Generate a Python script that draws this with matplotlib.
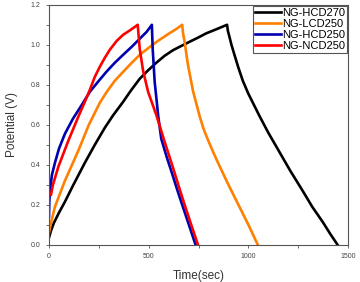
import matplotlib.pyplot as plt
import numpy as np

# ---------------------------
# Galvanostatic charge/discharge data
# ---------------------------
hcd270_t = [0, 10, 25, 50, 80, 120, 180, 230, 280, 320, 372, 410, 455, 500, 538,
            580, 622, 665, 705, 750, 788, 840, 893,
            897, 905, 915, 930, 950, 972, 1000, 1030, 1055, 1100, 1155, 1210, 1272,
            1320, 1372, 1410, 1447]
hcd270_v = [0.035, 0.07, 0.11, 0.16, 0.215, 0.295, 0.41, 0.50, 0.585, 0.645, 0.715, 0.77,
            0.83, 0.875, 0.91, 0.945, 0.973, 0.995, 1.015, 1.037, 1.057, 1.078, 1.10,
            1.07, 1.04, 1.00, 0.95, 0.885, 0.82, 0.755, 0.695, 0.645, 0.56, 0.465, 0.37,
            0.27, 0.19, 0.115, 0.055, 0.0]

lcd250_t = [0, 10, 30, 80, 147, 200, 255, 290, 330, 372, 415, 455, 500, 540, 600, 640, 668,
            672, 680, 697, 722, 755, 775, 797, 825, 850, 900, 950, 1000, 1047]
lcd250_v = [0.06, 0.11, 0.19, 0.32, 0.47, 0.60, 0.71, 0.765, 0.82, 0.865, 0.91, 0.95,
            0.985, 1.015, 1.055, 1.08, 1.10,
            1.06, 1.015, 0.90, 0.77, 0.645, 0.58, 0.525, 0.46, 0.405, 0.30, 0.20, 0.10, 0.0]

hcd250_t = [0, 2, 5, 15, 30, 50, 80, 120, 165, 205, 250, 288, 330, 372, 415, 455, 490, 516,
            520, 525, 530, 540, 547, 563, 590, 613, 640, 663, 700, 735]
hcd250_v = [0.14, 0.22, 0.27, 0.35, 0.41, 0.48, 0.555, 0.63, 0.70, 0.765, 0.82, 0.865,
            0.91, 0.95, 0.99, 1.03, 1.065, 1.10,
            0.98, 0.90, 0.815, 0.72, 0.65, 0.53, 0.44, 0.37, 0.285, 0.215, 0.105, 0.0]

ncd250_t = [10, 20, 47, 97, 147, 180, 205, 230, 255, 280, 305, 340, 372, 410, 445,
            450, 455, 472, 497, 538, 580, 622, 650, 672, 710, 747]
ncd250_v = [0.25, 0.30, 0.39, 0.52, 0.64, 0.715, 0.775, 0.84, 0.89, 0.935, 0.975, 1.02,
            1.05, 1.075, 1.10,
            1.04, 0.98, 0.87, 0.765, 0.65, 0.515, 0.385, 0.295, 0.225, 0.11, 0.0]

labels = ["NG-HCD270", "NG-LCD250", "NG-HCD250", "NG-NCD250"]
colors = ["black", "#ff8000", "#0000b0", "#ff0000"]

plt.rcParams['font.family'] = ['Liberation Sans', 'DejaVu Sans']

fig = plt.figure(figsize=(3.6, 2.82), dpi=100)
ax = fig.add_axes([0.136, 0.132, 0.831, 0.851])

series = [(hcd270_t, hcd270_v), (lcd250_t, lcd250_v),
          (hcd250_t, hcd250_v), (ncd250_t, ncd250_v)]
for (t, v), lab, c in zip(series, labels, colors):
    ax.plot(t, v, color=c, lw=1.9, label=lab, solid_joinstyle='round')

ax.set_xlim(0, 1500)
ax.set_ylim(0, 1.2)
ax.set_xticks([0, 500, 1000, 1500])
ax.set_xticks([250, 750, 1250], minor=True)
ax.set_yticks(np.arange(0, 1.21, 0.2))
ax.set_yticks(np.arange(0.1, 1.2, 0.2), minor=True)
ax.set_yticklabels([f"{y:.1f}" for y in np.arange(0, 1.21, 0.2)])
ax.tick_params(which='both', direction='out', length=2.5, width=0.6,
               colors='#555555', labelsize=5, labelcolor='#444444')
for s in ax.spines.values():
    s.set_color('#555555')
    s.set_linewidth(0.8)

ax.set_xlabel("Time(sec)", fontsize=8.5, color='#333333', labelpad=7)
ax.set_ylabel("Potential (V)", fontsize=8.5, color='#333333', labelpad=9)

leg = ax.legend(loc='upper right', fontsize=8, handlelength=2.4, handletextpad=0.1,
                labelspacing=0.1, borderpad=0.15, borderaxespad=0.1,
                fancybox=False, framealpha=1)
leg.get_frame().set_edgecolor('#555555')
leg.get_frame().set_linewidth(0.8)

fig.savefig("out.png", dpi=100)
